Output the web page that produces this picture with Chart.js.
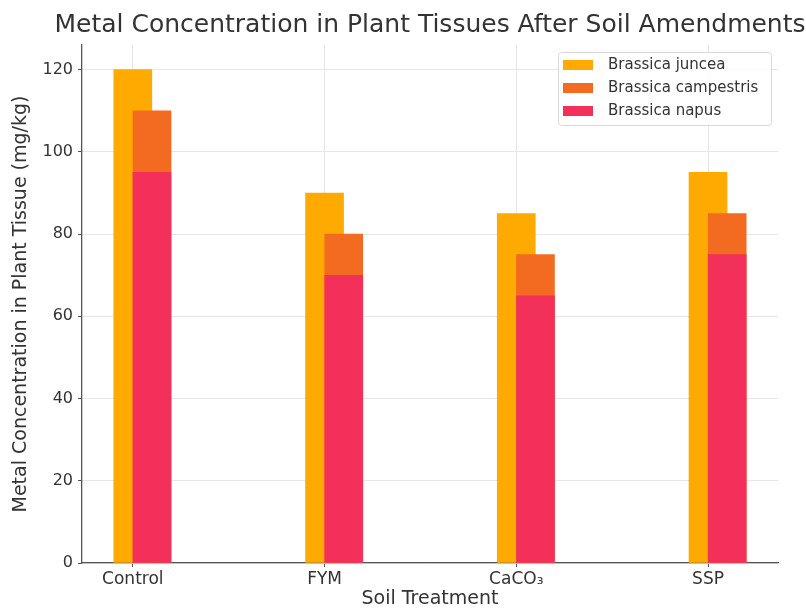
<!DOCTYPE html>
<html>
<head>
<meta charset="utf-8">
<script src="https://cdn.jsdelivr.net/npm/chart.js@4"></script>
<style>
  html, body { margin: 0; padding: 0; background: #fff; }
</style>
</head>
<body>
<canvas id="chart" width="806" height="610"></canvas>
<script>
// Chart data
const treatments = ['Control', 'FYM', 'CaCO₃', 'SSP'];
const speciesNames = ['Brassica juncea', 'Brassica campestris', 'Brassica napus'];
const junceaValues = [120, 90, 85, 95];
const campestrisValues = [110, 80, 75, 85];
const napusValues = [95, 70, 65, 75];
const yTicks = [0, 20, 40, 60, 80, 100, 120];

const FONT = 'DejaVu Sans';
const TEXT = '#333';

// juncea sits on the category, the other two are shifted half a bar to the right
function points(values, shift) {
  return values.map((v, i) => ({ x: i + shift, y: v }));
}

// Title centred over the plot area
const titlePlugin = {
  id: 'plotTitle',
  afterDraw(chart) {
    const { ctx, chartArea } = chart;
    ctx.save();
    ctx.font = '25px "' + FONT + '"';
    ctx.fillStyle = TEXT;
    ctx.textAlign = 'center';
    ctx.textBaseline = 'middle';
    ctx.fillText('Metal Concentration in Plant Tissues After Soil Amendments',
      (chartArea.left + chartArea.right) / 2, 25);
    ctx.restore();
  }
};

// Legend box inside the upper right corner
const legendPlugin = {
  id: 'innerLegend',
  afterDraw(chart) {
    const { ctx, chartArea } = chart;
    const w = 213, h = 73;
    const x = chartArea.right - 7 - w;
    const y = chartArea.top + 7;
    ctx.save();
    ctx.fillStyle = 'rgba(255,255,255,0.85)';
    ctx.strokeStyle = '#d8d8d8';
    ctx.lineWidth = 1;
    ctx.beginPath();
    ctx.roundRect(x + 0.5, y + 0.5, w, h, 3);
    ctx.fill();
    ctx.stroke();
    ctx.font = '15px "' + FONT + '"';
    ctx.textBaseline = 'middle';
    chart.data.datasets.forEach((ds, i) => {
      const cy = y + 13 + i * 23;
      ctx.fillStyle = ds.backgroundColor;
      ctx.fillRect(x + 5, cy - 5, 30, 10);
      ctx.fillStyle = TEXT;
      ctx.fillText(ds.label, x + 50, cy);
    });
    ctx.restore();
  }
};

new Chart(document.getElementById('chart'), {
  type: 'bar',
  data: {
    datasets: [
      { label: speciesNames[0], data: points(junceaValues, 0), backgroundColor: '#FFAA00', order: 3 },
      { label: speciesNames[1], data: points(campestrisValues, 0.1), backgroundColor: '#F26B20', order: 2 },
      { label: speciesNames[2], data: points(napusValues, 0.1), backgroundColor: '#F3305A', order: 1 }
    ]
  },
  options: {
    responsive: false,
    animation: false,
    datasets: {
      bar: { grouped: false, barThickness: 38, borderWidth: 0 }
    },
    layout: { padding: { top: 45, right: 28, left: 0, bottom: 0 } },
    plugins: {
      legend: { display: false },
      tooltip: { enabled: false }
    },
    scales: {
      x: {
        type: 'linear',
        offset: false,
        min: -0.265,
        max: 3.365,
        afterBuildTicks: s => { s.ticks = treatments.map((t, i) => ({ value: i })); },
        afterFit: s => { s.height = 47; },
        ticks: {
          callback: v => treatments[v],
          font: { family: FONT, size: 17 },
          color: TEXT,
          padding: 2,
          autoSkip: false,
          maxRotation: 0
        },
        grid: { offset: false, color: '#e6e6e6', tickColor: '#555', tickLength: 4 },
        border: { color: '#555', width: 1.3 },
        title: {
          display: true,
          text: 'Soil Treatment',
          font: { family: FONT, size: 19 },
          color: TEXT,
          padding: 0
        }
      },
      y: {
        min: 0,
        max: 126,
        afterBuildTicks: s => { s.ticks = yTicks.map(v => ({ value: v })); },
        afterFit: s => { s.width = 82; },
        ticks: {
          font: { family: FONT, size: 16 },
          color: TEXT,
          padding: 5
        },
        grid: { color: '#e6e6e6', tickColor: '#555', tickLength: 4 },
        border: { color: '#555', width: 1.3 },
        title: {
          display: true,
          text: 'Metal Concentration in Plant Tissue (mg/kg)',
          font: { family: FONT, size: 19 },
          color: TEXT,
          padding: { top: 10, bottom: 0 }
        }
      }
    }
  },
  plugins: [titlePlugin, legendPlugin]
});
</script>
</body>
</html>
